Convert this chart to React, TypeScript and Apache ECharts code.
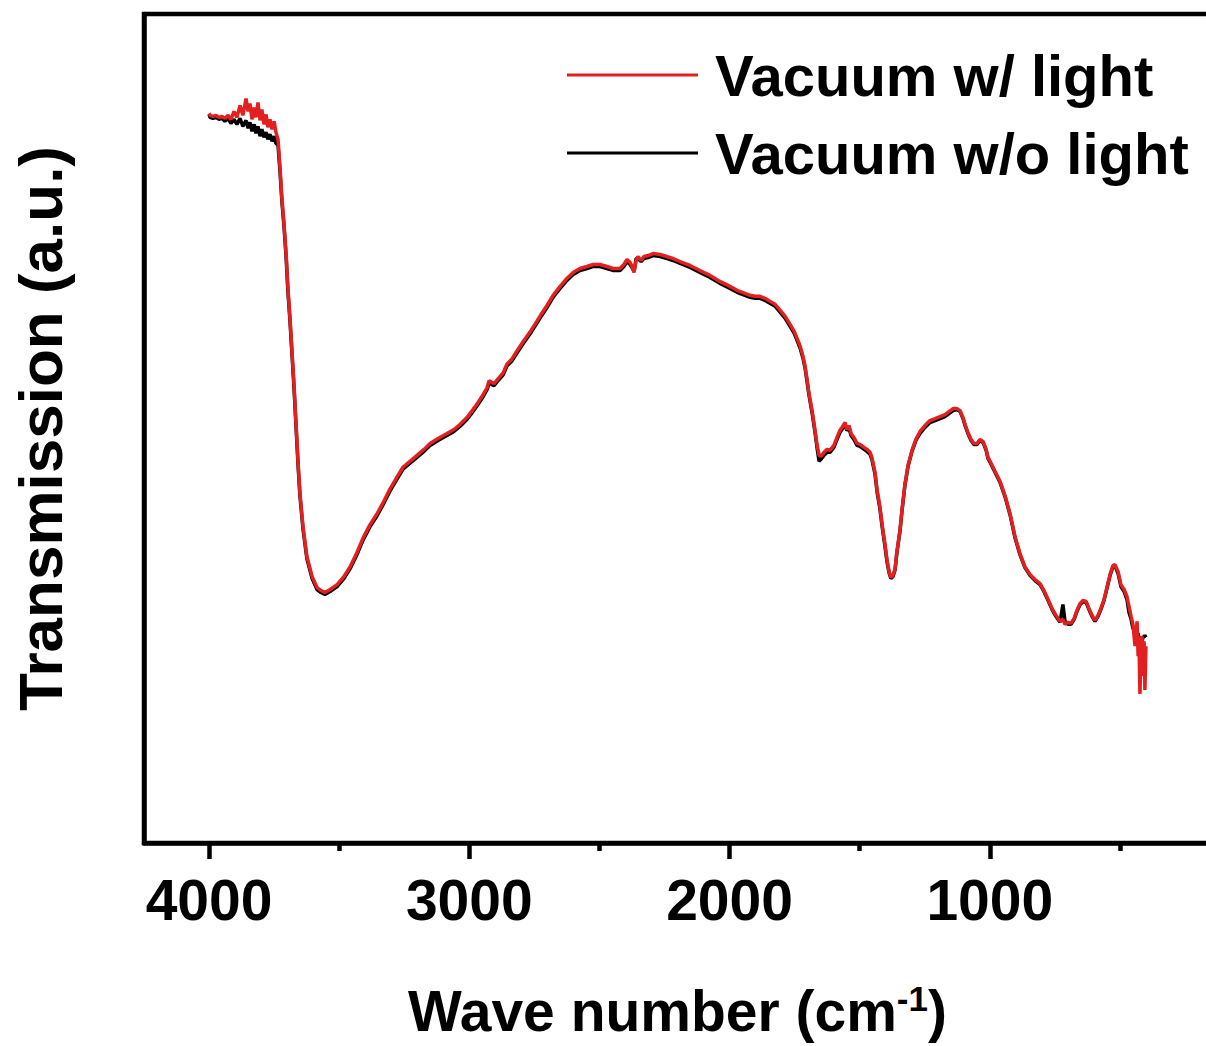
import React, { useEffect, useRef } from "react";
import * as echarts from "echarts";

// FTIR transmission spectra, wave number in cm^-1
const waveNumbers = [
  4000, 3996, 3985, 3973, 3962, 3950, 3939, 3927, 3916, 3904,
  3893, 3881, 3870, 3858, 3850, 3843, 3835, 3827, 3820, 3812,
  3804, 3797, 3789, 3781, 3774, 3766, 3758, 3750, 3743, 3735,
  3727, 3720, 3712, 3704, 3697, 3689, 3681, 3674, 3666, 3658,
  3651, 3639, 3624, 3604, 3585, 3570, 3555, 3535, 3508, 3482,
  3458, 3432, 3408, 3382, 3355, 3328, 3305, 3278, 3255, 3228,
  3201, 3174, 3151, 3120, 3086, 3059, 3036, 3009, 2986, 2967,
  2947, 2932, 2924, 2917, 2905, 2890, 2870, 2855, 2836, 2817,
  2794, 2767, 2740, 2721, 2701, 2678, 2651, 2625, 2601, 2575,
  2548, 2525, 2498, 2471, 2448, 2421, 2406, 2394, 2382, 2375,
  2367, 2359, 2352, 2340, 2329, 2313, 2294, 2267, 2240, 2217,
  2190, 2152, 2114, 2075, 2037, 2006, 1971, 1941, 1921, 1902,
  1883, 1864, 1845, 1825, 1806, 1787, 1768, 1752, 1741, 1729,
  1718, 1710, 1702, 1695, 1683, 1672, 1664, 1656, 1649, 1637,
  1625, 1614, 1599, 1587, 1576, 1568, 1556, 1549, 1541, 1533,
  1522, 1510, 1499, 1483, 1472, 1460, 1453, 1441, 1433, 1422,
  1414, 1403, 1395, 1387, 1380, 1372, 1364, 1357, 1345, 1337,
  1326, 1314, 1299, 1284, 1268, 1249, 1230, 1210, 1191, 1172,
  1157, 1141, 1126, 1114, 1103, 1095, 1084, 1072, 1061, 1049,
  1038, 1026, 1014, 1007, 995, 980, 961, 941, 922, 903,
  884, 865, 845, 826, 807, 792, 776, 761, 746, 730,
  719, 711, 699, 688, 676, 665, 653, 642, 630, 619,
  607, 596, 584, 573, 561, 550, 538, 527, 519, 507,
  496, 484, 473, 465, 457, 450, 442, 434, 430, 427,
  423, 419, 415, 411, 407, 404, 400,
];

// Transmission (a.u.) measured in vacuum under illumination
const withLight = [
  73.4, 73.2, 73.1, 73.2, 73.0, 73.1, 72.9, 73.2, 72.8, 73.6,
  73.0, 74.2, 73.2, 74.9, 73.6, 74.4, 72.8, 74.0, 73.0, 74.5,
  72.7, 73.8, 72.3, 73.3, 72.0, 72.8, 71.8, 72.6, 71.5, 70.8,
  67.8, 64.8, 62.3, 59.3, 55.8, 52.8, 49.3, 46.3, 42.3, 38.3,
  35.3, 31.8, 28.8, 26.8, 25.7, 25.4, 25.2, 25.5, 26.0, 26.8,
  27.8, 29.2, 30.7, 32.0, 33.1, 34.4, 35.6, 36.8, 37.8, 38.4,
  39.0, 39.6, 40.2, 40.7, 41.2, 41.6, 42.1, 42.8, 43.6, 44.3,
  45.1, 45.8, 46.5, 46.4, 46.2, 46.7, 47.3, 48.2, 48.7, 49.5,
  50.4, 51.4, 52.5, 53.3, 54.1, 55.1, 56.0, 56.8, 57.4, 57.8,
  58.0, 58.2, 58.2, 58.0, 57.8, 57.8, 58.2, 58.7, 58.4, 58.0,
  57.4, 58.6, 59.0, 58.6, 59.0, 59.1, 59.3, 59.2, 59.0, 58.8,
  58.5, 58.1, 57.6, 57.1, 56.5, 56.1, 55.6, 55.3, 55.1, 55.0,
  55.0, 54.8, 54.5, 54.2, 53.6, 53.0, 52.2, 51.5, 50.8, 50.0,
  49.0, 48.0, 46.6, 45.3, 43.5, 41.6, 40.1, 39.0, 38.9, 39.3,
  39.6, 39.5, 40.0, 40.8, 41.5, 41.8, 42.3, 41.6, 42.0, 41.2,
  40.8, 40.2, 40.1, 39.8, 39.6, 39.3, 38.8, 37.3, 35.5, 33.8,
  32.1, 30.1, 28.5, 27.3, 26.7, 26.9, 27.6, 29.3, 31.5, 33.6,
  36.1, 38.0, 39.5, 40.6, 41.4, 42.0, 42.5, 42.7, 42.9, 43.1,
  43.4, 43.7, 43.7, 43.5, 42.8, 42.1, 41.3, 40.6, 40.2, 40.2,
  40.6, 40.4, 39.6, 38.8, 38.2, 37.4, 36.4, 34.9, 33.1, 30.8,
  29.1, 27.8, 27.0, 26.5, 26.1, 25.4, 24.5, 23.6, 22.9, 22.3,
  22.5, 22.0, 22.2, 22.1, 22.6, 23.4, 24.1, 24.4, 24.3, 23.6,
  22.9, 22.4, 22.9, 23.6, 24.5, 25.7, 27.0, 27.9, 28.0, 27.3,
  26.0, 25.5, 24.8, 23.8, 22.8, 22.0, 19.8, 22.3, 18.8, 20.8,
  15.0, 19.8, 20.8, 16.8, 20.3, 15.4, 19.8,
];

// Transmission (a.u.) measured in vacuum in the dark
const withoutLight = [
  73.3, 73.0, 72.9, 73.0, 72.8, 72.9, 72.6, 72.9, 72.4, 72.8,
  72.3, 72.9, 72.1, 72.7, 71.9, 72.5, 71.6, 72.3, 71.4, 72.1,
  71.1, 71.8, 71.0, 71.5, 70.8, 71.3, 70.6, 71.1, 70.4, 70.2,
  67.4, 64.5, 62.0, 59.0, 55.5, 52.5, 49.0, 46.0, 42.0, 38.0,
  35.0, 31.6, 28.6, 26.6, 25.5, 25.2, 25.0, 25.3, 25.8, 26.6,
  27.6, 29.0, 30.5, 31.8, 32.9, 34.2, 35.4, 36.6, 37.6, 38.2,
  38.8, 39.4, 40.0, 40.5, 41.0, 41.4, 41.9, 42.6, 43.4, 44.1,
  44.9, 45.6, 46.2, 46.2, 46.0, 46.5, 47.1, 48.0, 48.5, 49.3,
  50.2, 51.2, 52.3, 53.1, 53.9, 54.9, 55.8, 56.6, 57.2, 57.6,
  57.8, 58.0, 58.0, 57.8, 57.6, 57.6, 58.0, 58.5, 58.2, 57.9,
  57.5, 58.8, 58.8, 58.5, 58.8, 58.9, 59.1, 59.0, 58.8, 58.6,
  58.3, 57.9, 57.4, 56.9, 56.3, 55.9, 55.4, 55.1, 54.9, 54.8,
  54.8, 54.6, 54.3, 54.0, 53.4, 52.8, 52.0, 51.3, 50.6, 49.8,
  48.8, 47.8, 46.4, 45.1, 43.3, 41.4, 39.8, 38.4, 38.6, 39.0,
  39.3, 39.3, 39.8, 40.6, 41.3, 41.6, 42.0, 41.5, 41.7, 41.0,
  40.6, 40.0, 39.9, 39.6, 39.4, 39.1, 38.6, 37.1, 35.3, 33.6,
  31.9, 29.9, 28.3, 27.2, 26.6, 26.8, 27.5, 29.2, 31.4, 33.5,
  36.0, 37.9, 39.4, 40.5, 41.2, 41.8, 42.3, 42.5, 42.7, 42.9,
  43.2, 43.5, 43.6, 43.4, 42.7, 42.0, 41.2, 40.5, 40.1, 40.1,
  40.5, 40.3, 39.5, 38.7, 38.1, 37.3, 36.3, 34.8, 33.0, 30.7,
  29.0, 27.7, 26.9, 26.4, 26.0, 25.3, 24.4, 23.5, 22.8, 22.2,
  24.0, 22.3, 22.0, 22.0, 22.5, 23.3, 24.0, 24.3, 24.2, 23.5,
  22.8, 22.3, 22.8, 23.5, 24.4, 25.6, 26.9, 27.8, 27.9, 27.1,
  25.8, 25.3, 24.5, 23.2, 22.5, 21.6, 21.4, 20.9, 21.1, 20.5,
  20.3, 20.6, 20.2, 20.8, 20.7, 20.9, 20.7,
];

const seriesNames = ["Vacuum w/ light", "Vacuum w/o light"];
const majorTicks = [4000, 3000, 2000, 1000];
const minorTicks = [3500, 2500, 1500, 500];

const FONT = "'Liberation Sans', Arial, Helvetica, sans-serif";
const RED = "#e41f1f";
const INK = "#000000";

export default function App() {
  const ref = useRef<HTMLDivElement>(null);

  useEffect(() => {
    if (!ref.current) return;
    const chart = echarts.init(ref.current, null, { renderer: "svg" });
    const pairs = (vals: number[]) => waveNumbers.map((w, i) => [w, vals[i]]);
    const bold = { fontFamily: FONT, fontWeight: "bold" as const, color: INK };

    chart.setOption({
      animation: false,
      backgroundColor: "#ffffff",
      grid: {
        left: 144,
        top: 14,
        right: 49,
        bottom: 198,
        show: true,
        borderColor: INK,
        borderWidth: 4.5,
        backgroundColor: "transparent",
      },
      legend: {
        orient: "vertical",
        left: 567,
        top: 45,
        padding: 0,
        data: seriesNames,
        icon: "rect",
        itemWidth: 131,
        itemHeight: 3,
        itemGap: 18,
        itemStyle: { borderWidth: 0 },
        selectedMode: false,
        textStyle: { ...bold, fontSize: 58, lineHeight: 60, padding: [0, 0, 0, 12] },
      },
      xAxis: [
        {
          type: "value",
          inverse: true,
          min: 150,
          max: 4250,
          name: "{b|Wave number (cm}{s|-1}{b|)}",
          nameLocation: "middle",
          nameGap: 138,
          nameTextStyle: {
            ...bold,
            fontSize: 57,
            lineHeight: 60,
            rich: {
              b: { ...bold, fontSize: 57, lineHeight: 60 },
              s: { ...bold, fontSize: 35, lineHeight: 44, verticalAlign: "top" },
            },
          },
          axisLine: { show: true, onZero: false, lineStyle: { color: INK, width: 4.5 } },
          axisTick: {
            show: true,
            inside: false,
            length: 16,
            customValues: majorTicks,
            lineStyle: { color: INK, width: 4.5 },
          },
          axisLabel: {
            show: true,
            customValues: majorTicks,
            formatter: (v: number) => String(v),
            margin: 27,
            ...bold,
            fontSize: 57,
            lineHeight: 60,
          },
          splitLine: { show: false },
        },
        {
          type: "value",
          inverse: true,
          min: 150,
          max: 4250,
          position: "bottom",
          axisLine: { show: false, onZero: false },
          axisTick: {
            show: true,
            inside: false,
            length: 8,
            customValues: minorTicks,
            lineStyle: { color: INK, width: 4.5 },
          },
          axisLabel: { show: false },
          splitLine: { show: false },
        },
      ],
      yAxis: {
        type: "value",
        min: 0,
        max: 83.4,
        name: "Transmission (a.u.)",
        nameLocation: "middle",
        nameGap: 72,
        nameTextStyle: { ...bold, fontSize: 62, lineHeight: 64 },
        axisLine: { show: true, onZero: false, lineStyle: { color: INK, width: 4.5 } },
        axisTick: { show: false },
        axisLabel: { show: false },
        splitLine: { show: false },
      },
      series: [
        {
          name: seriesNames[1],
          type: "line",
          xAxisIndex: 0,
          data: pairs(withoutLight),
          showSymbol: false,
          symbol: "none",
          silent: true,
          z: 2,
          itemStyle: { color: INK },
          lineStyle: { color: INK, width: 3.5 },
        },
        {
          name: seriesNames[0],
          type: "line",
          xAxisIndex: 0,
          data: pairs(withLight),
          showSymbol: false,
          symbol: "none",
          silent: true,
          z: 3,
          itemStyle: { color: RED },
          lineStyle: { color: RED, width: 3.5 },
        },
      ],
    });

    return () => chart.dispose();
  }, []);

  return (
    <div
      style={{
        position: "fixed",
        left: 0,
        top: 0,
        width: 1206,
        height: 1046,
        overflow: "hidden",
        background: "#ffffff",
      }}
    >
      <div ref={ref} style={{ width: 1260, height: 1046 }} />
    </div>
  );
}
